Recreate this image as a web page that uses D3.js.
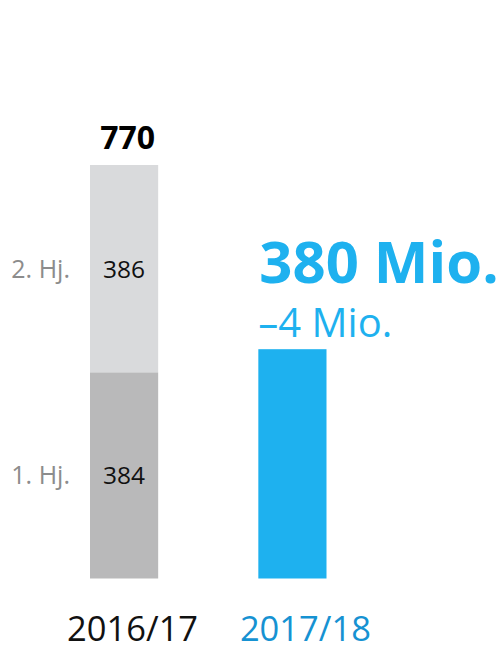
<!DOCTYPE html>
<html><head><meta charset="utf-8">
<script src="https://cdn.jsdelivr.net/npm/d3@7"></script>
<style>body{margin:0;background:#fff}svg{display:block}text{font-family:"Open Sans",sans-serif}</style>
</head><body><svg id="c" width="504" height="648"></svg>
<script>
const categories = ["2016/17", "2017/18"];
const halfLabels = ["1. Hj.", "2. Hj."];
const firstYearSegments = [384, 386];
const firstYearTotal = 770;
const secondYearBar = 427;
const secondYearLabel = "380 Mio.";
const secondYearChange = "\u20134 Mio.";

const svg = d3.select("#c");
const x = d3.scaleBand().domain(categories).range([90, 326.5]).paddingInner(0.595).paddingOuter(0);
const y = d3.scaleLinear().domain([0, 770]).range([578.5, 165]);

let acc = 0;
const segs = firstYearSegments.map((v, i) => { const s = {y0: acc, y1: acc + v, v, lab: halfLabels[i]}; acc += v; return s; });
const segColors = ["#b9b9ba", "#d9dadc"];
const bx = x(categories[0]), bw = x.bandwidth();

svg.selectAll("rect.seg").data(segs).enter().append("rect")
  .attr("x", bx).attr("width", bw)
  .attr("y", d => y(d.y1)).attr("height", d => y(d.y0) - y(d.y1))
  .attr("fill", (d, i) => segColors[i]);

svg.selectAll("text.val").data(segs).enter().append("text")
  .attr("x", bx + bw / 2).attr("y", d => y((d.y0 + d.y1) / 2) + 9)
  .attr("text-anchor", "middle").attr("font-size", 24.5).attr("fill", "#111")
  .text(d => d.v);

svg.selectAll("text.hj").data(segs).enter().append("text")
  .attr("x", 70).attr("y", d => y((d.y0 + d.y1) / 2) + 9)
  .attr("text-anchor", "end").attr("font-size", 25).attr("fill", "#8c8c8c")
  .text(d => d.lab);

svg.append("text").attr("x", bx + bw / 2 + 3.5).attr("y", y(firstYearTotal) - 16)
  .attr("text-anchor", "middle").attr("font-size", 32).attr("font-weight", 700).attr("fill", "#000")
  .text(firstYearTotal);

const bx2 = x(categories[1]);
svg.append("rect").attr("x", bx2).attr("width", bw)
  .attr("y", y(secondYearBar)).attr("height", y(0) - y(secondYearBar)).attr("fill", "#1eb1ef");

svg.append("text").attr("x", bx2 + 1).attr("y", y(secondYearBar) - 66)
  .attr("font-size", 58).attr("font-weight", 700).attr("fill", "#1eb1ef").text(secondYearLabel);
svg.append("text").attr("x", bx2).attr("y", y(secondYearBar) - 12)
  .attr("font-size", 40).attr("font-weight", 400).attr("fill", "#1eb1ef").text(secondYearChange);

const catColors = ["#111", "#1692d2"];
svg.selectAll("text.cat").data(categories).enter().append("text")
  .attr("x", (d, i) => x(d) + bw / 2 + (i ? 13 : 8.5)).attr("y", 641)
  .attr("text-anchor", "middle").attr("font-size", 34.5).attr("fill", (d, i) => catColors[i])
  .text(d => d);
</script></body></html>
